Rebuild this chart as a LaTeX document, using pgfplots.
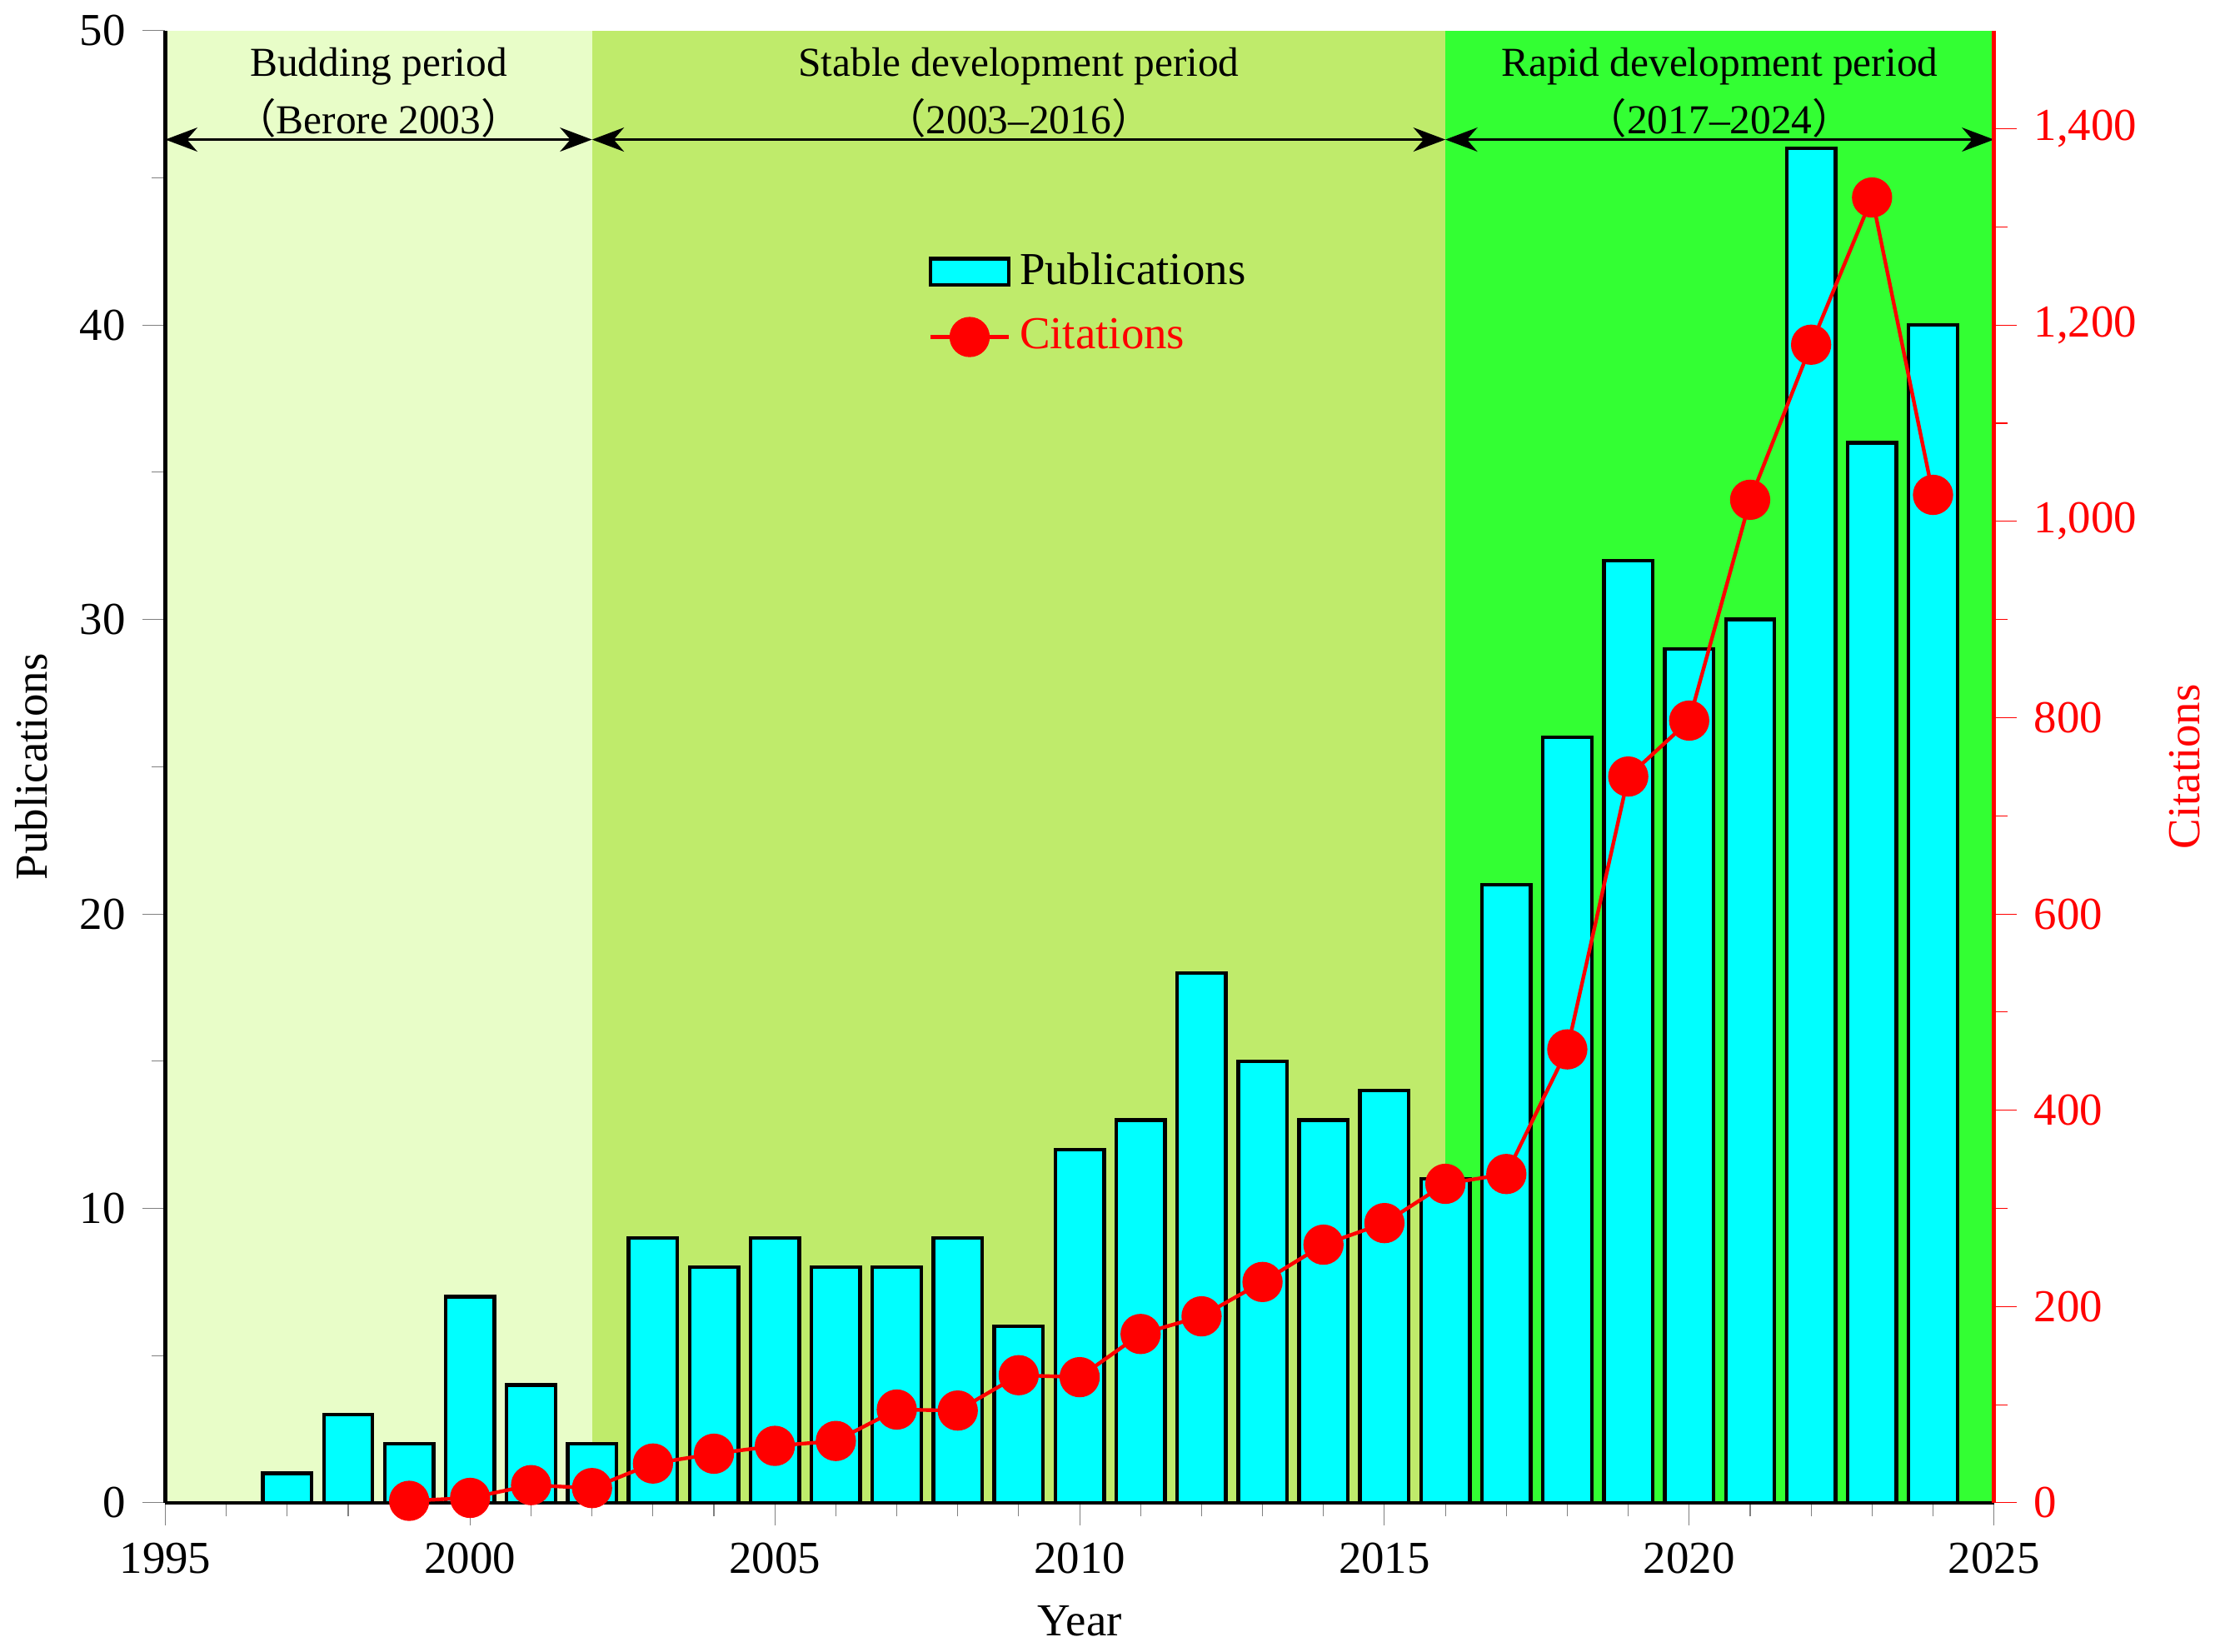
\documentclass[border=0pt]{standalone}
\usepackage{pgfplots}
\pgfplotsset{compat=1.18}
\usepackage{fontspec}
\setmainfont{Liberation Serif}
\newfontfamily\cjk{Noto Sans CJK SC}
\usetikzlibrary{arrows.meta}
\definecolor{bgA}{HTML}{E8FDC8}
\definecolor{bgB}{HTML}{BFEB6B}
\definecolor{bgC}{HTML}{33FF33}
\definecolor{barc}{HTML}{00FFFF}
\begin{document}
\begin{tikzpicture}[font=\fontsize{10}{12}\selectfont]
\begin{axis}[
  width=400pt, height=322pt, scale only axis,
  xmin=1995, xmax=2025, ymin=0, ymax=50,
  axis y line*=left, axis x line*=bottom,
  xtick={1995,2000,...,2025}, minor x tick num=4,
  ytick={0,10,...,50}, minor y tick num=1,
  tick align=outside, line width=0.8pt,
  major tick length=5pt, minor tick length=3pt,
  xticklabel style={/pgf/number format/1000 sep={}},
  /pgf/number format/assume math mode=true,
  xlabel={Year}, ylabel={Publications},
  axis on top, clip=false,
  ]
  \fill[bgA] (axis cs:1995,0) rectangle (axis cs:2002,50);
  \fill[bgB] (axis cs:2002,0) rectangle (axis cs:2016,50);
  \fill[bgC] (axis cs:2016,0) rectangle (axis cs:2025,50);
  \addplot[ybar, bar width=0.8, fill=barc, draw=black, line width=0.8pt] coordinates {
   (1997,1)(1998,3)(1999,2)(2000,7)(2001,4)(2002,2)(2003,9)(2004,8)(2005,9)(2006,8)
   (2007,8)(2008,9)(2009,6)(2010,12)(2011,13)(2012,18)(2013,15)(2014,13)(2015,14)
   (2016,11)(2017,21)(2018,26)(2019,32)(2020,29)(2021,30)(2022,46)(2023,36)(2024,40)};
  \draw[{Stealth[length=7pt]}-{Stealth[length=7pt]}, line width=0.6pt] (axis cs:1995,46.3) -- (axis cs:2002,46.3);
  \draw[{Stealth[length=7pt]}-{Stealth[length=7pt]}, line width=0.6pt] (axis cs:2002,46.3) -- (axis cs:2016,46.3);
  \draw[{Stealth[length=7pt]}-{Stealth[length=7pt]}, line width=0.6pt] (axis cs:2016,46.3) -- (axis cs:2025,46.3);
  \node[align=center, font=\fontsize{9}{12.5}\selectfont] at (axis cs:1998.5,47.9) {Budding period\\{\cjk （}Berore 2003{\cjk ）}};
  \node[align=center, font=\fontsize{9}{12.5}\selectfont] at (axis cs:2009,47.9) {Stable development period\\{\cjk （}2003--2016{\cjk ）}};
  \node[align=center, font=\fontsize{9}{12.5}\selectfont] at (axis cs:2020.5,47.9) {Rapid development period\\{\cjk （}2017--2024{\cjk ）}};
\end{axis}
\begin{axis}[
  width=400pt, height=322pt, scale only axis,
  xmin=1995, xmax=2025, ymin=0, ymax=1500,
  axis y line*=right, axis x line=none,
  ytick={0,200,...,1400}, minor y tick num=1,
  tick align=outside, line width=0.8pt,
  major tick length=5pt, minor tick length=3pt,
  y axis line style={red}, ytick style={red}, yticklabel style={red},
  /pgf/number format/assume math mode=true,
  ylabel={Citations}, ylabel style={red},
  legend style={at={(0.409,0.863)}, anchor=north west, draw=none, fill=none, font=\fontsize{10}{12}\selectfont, row sep=2pt},
  legend cell align=left,
  ]
  \addlegendimage{ybar, ybar legend, fill=barc, draw=black, line width=0.8pt, area legend}
  \addlegendentry{Publications}
  \addplot[red, line width=0.8pt, mark=*, mark size=4pt, mark options={fill=red}] coordinates {
   (1999,2)(2000,5)(2001,18)(2002,15)(2003,40)(2004,50)(2005,58)(2006,63)(2007,95)(2008,94)
   (2009,130)(2010,128)(2011,172)(2012,190)(2013,225)(2014,263)(2015,285)(2016,325)
   (2017,335)(2018,462)(2019,740)(2020,797)(2021,1022)(2022,1180)(2023,1330)(2024,1027)};
  \addlegendentry{\textcolor{red}{Citations}}
\end{axis}
\end{tikzpicture}
\end{document}
